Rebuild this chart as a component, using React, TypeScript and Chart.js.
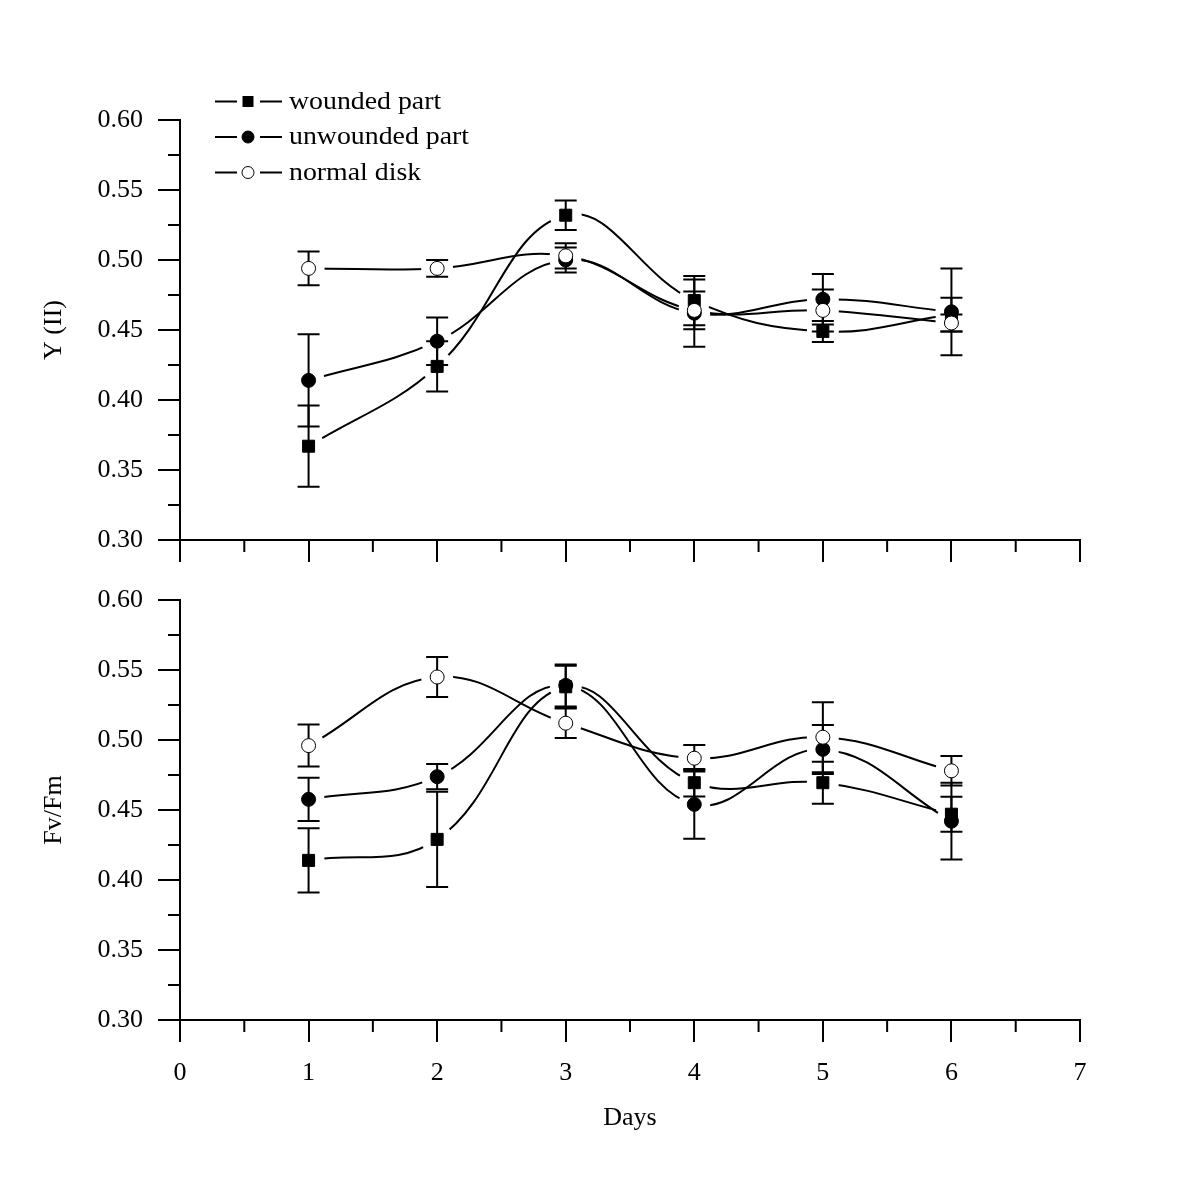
import React, { useEffect, useRef } from 'react';
import { Chart, registerables } from 'chart.js';

Chart.register(...registerables);

// ---- data ----
const days = [1, 2, 3, 4, 5, 6];
const xTicks = [0, 1, 2, 3, 4, 5, 6, 7];
const yTicks = [0.3, 0.35, 0.4, 0.45, 0.5, 0.55, 0.6];
const seriesNames = ['wounded part', 'unwounded part', 'normal disk'];

// Y (II) panel
const yiiWounded = [0.367, 0.424, 0.532, 0.471, 0.449, 0.461];
const yiiWoundedErr = [0.029, 0.018, 0.0105, 0.0176, 0.0075, 0.012];
const yiiUnwounded = [0.414, 0.442, 0.5, 0.462, 0.472, 0.463];
const yiiUnwoundedErr = [0.033, 0.017, 0.009, 0.024, 0.018, 0.031];
const yiiNormal = [0.494, 0.494, 0.503, 0.464, 0.464, 0.455];
const yiiNormalErr = [0.012, 0.006, 0.009, 0.0135, 0.015, 0.006];

// Fv/Fm panel
const fvWounded = [0.414, 0.429, 0.538, 0.4695, 0.4695, 0.447];
const fvWoundedErr = [0.023, 0.034, 0.015, 0.0098, 0.015, 0.0125];
const fvUnwounded = [0.4576, 0.4738, 0.539, 0.454, 0.4933, 0.442];
const fvUnwoundedErr = [0.0155, 0.009, 0.015, 0.0245, 0.0175, 0.0274];
const fvNormal = [0.496, 0.545, 0.512, 0.487, 0.502, 0.478];
const fvNormalErr = [0.015, 0.0143, 0.0105, 0.0095, 0.025, 0.0105];

const FONT = "'Liberation Serif', 'Times New Roman', serif";
const markerStyles = [
  { style: 'rect', radius: 8.5, fill: '#000' },
  { style: 'circle', radius: 7, fill: '#000' },
  { style: 'circle', radius: 7, fill: '#fff' },
];

const decorPlugin = {
  id: 'decor',
  beforeDatasetsDraw(chart: any) {
    const { ctx } = chart;
    const xs = chart.scales.x;
    const ys = chart.scales.y;
    ctx.save();
    ctx.strokeStyle = '#000';
    ctx.lineWidth = 2;
    chart.data.datasets.forEach((ds: any) => {
      if (!ds.errors) return;
      ds.data.forEach((p: any, i: number) => {
        const e = ds.errors[i];
        const px = xs.getPixelForValue(p.x);
        const t = ys.getPixelForValue(p.y + e);
        const b = ys.getPixelForValue(p.y - e);
        ctx.beginPath();
        ctx.moveTo(px, t);
        ctx.lineTo(px, b);
        ctx.moveTo(px - 11, t);
        ctx.lineTo(px + 11, t);
        ctx.moveTo(px - 11, b);
        ctx.lineTo(px + 11, b);
        ctx.stroke();
      });
    });
    ctx.restore();
  },
  beforeDatasetDraw(chart: any, args: any) {
    const ds = chart.data.datasets[args.index];
    if (!ds.gap) return;
    const ctx = chart.ctx;
    ctx.save();
    ctx.beginPath();
    ctx.rect(0, 0, chart.width, chart.height);
    args.meta.data.forEach((pt: any) => {
      ctx.moveTo(pt.x + ds.gap, pt.y);
      ctx.arc(pt.x, pt.y, ds.gap, 0, Math.PI * 2);
    });
    ctx.clip('evenodd');
  },
  afterDatasetDraw(chart: any, args: any) {
    const ds = chart.data.datasets[args.index];
    if (!ds.gap) return;
    chart.ctx.restore();
  },
  afterDraw(chart: any, _args: any, opts: any) {
    const { ctx, chartArea } = chart;
    const xs = chart.scales.x;
    const ys = chart.scales.y;
    ctx.save();
    ctx.strokeStyle = '#000';
    ctx.lineWidth = 2;
    // minor ticks
    ctx.beginPath();
    for (let i = 0; i < yTicks.length - 1; i++) {
      const py = ys.getPixelForValue((yTicks[i] + yTicks[i + 1]) / 2);
      ctx.moveTo(chartArea.left - 12, py);
      ctx.lineTo(chartArea.left, py);
    }
    for (let i = 0; i < xTicks.length - 1; i++) {
      const px = xs.getPixelForValue((xTicks[i] + xTicks[i + 1]) / 2);
      ctx.moveTo(px, chartArea.bottom);
      ctx.lineTo(px, chartArea.bottom + 12);
    }
    ctx.stroke();

    if (opts && opts.legend) {
      seriesNames.forEach((name, i) => {
        const y = 101.5 + i * 35.5;
        ctx.lineWidth = 2;
        ctx.beginPath();
        ctx.moveTo(215, y);
        ctx.lineTo(237, y);
        ctx.moveTo(260, y);
        ctx.lineTo(282, y);
        ctx.stroke();
        const m = markerStyles[i];
        ctx.fillStyle = m.fill;
        ctx.lineWidth = 1;
        if (m.style === 'rect') {
          ctx.fillRect(242.5, y - 5.5, 11, 11);
        } else {
          ctx.beginPath();
          ctx.arc(248, y, 6, 0, Math.PI * 2);
          ctx.fill();
          ctx.stroke();
        }
        ctx.fillStyle = '#000';
        ctx.font = `26px ${FONT}`;
        ctx.textBaseline = 'alphabetic';
        ctx.textAlign = 'left';
        ctx.save();
        ctx.translate(289, y + 7);
        ctx.scale(1.07, 1);
        ctx.fillText(name, 0, 0);
        ctx.restore();
      });
    }
    ctx.restore();
  },
};

function buildConfig(panel: 'top' | 'bottom', yTitle: string, values: number[][], errors: number[][]) {
  const datasets: any[] = [];
  values.forEach((vals, i) => {
    const pts = days.map((d, j) => ({ x: d, y: vals[j] }));
    datasets.push({
      label: seriesNames[i] + ' line',
      data: pts,
      showLine: true,
      borderColor: '#000',
      borderWidth: 2,
      tension: 0.4,
      pointRadius: 0,
      fill: false,
      gap: 16,
      order: 10,
    });
  });
  values.forEach((vals, i) => {
    const m = markerStyles[i];
    datasets.push({
      label: seriesNames[i],
      data: days.map((d, j) => ({ x: d, y: vals[j] })),
      errors: errors[i],
      showLine: false,
      pointStyle: m.style,
      pointRadius: m.radius,
      pointBackgroundColor: m.fill,
      pointBorderColor: '#000',
      pointBorderWidth: 1,
      borderColor: '#000',
      order: 2 - i,
    });
  });

  const font = { family: FONT, size: 26 };
  const gridOpts = { drawOnChartArea: false, drawTicks: true, tickLength: 22, color: '#000', lineWidth: 2 };
  const borderOpts = { display: true, color: '#000', width: 2 };

  return {
    type: 'line',
    data: { datasets },
    plugins: [decorPlugin],
    options: {
      animation: false,
      responsive: false,
      devicePixelRatio: 1,
      events: [],
      layout: {
        padding: panel === 'top'
          ? { top: 120, right: 120, left: 0, bottom: 0 }
          : { top: 60, right: 120, left: 0, bottom: 66 },
      },
      plugins: {
        legend: { display: false },
        tooltip: { enabled: false },
        decor: { legend: panel === 'top' },
      },
      scales: {
        x: {
          type: 'linear',
          min: 0,
          max: 7,
          afterBuildTicks: (s: any) => { s.ticks = xTicks.map((v) => ({ value: v })); },
          afterFit: (s: any) => { s.height = panel === 'top' ? 40 : 114; },
          grid: gridOpts,
          border: borderOpts,
          ticks: {
            display: panel === 'bottom',
            font,
            color: '#000',
            padding: 16,
            maxRotation: 0,
            autoSkip: false,
            callback: (v: any) => String(v),
          },
          title: { display: panel === 'bottom', text: 'Days', font, color: '#000', padding: 0 },
        },
        y: {
          type: 'linear',
          min: 0.3,
          max: 0.6,
          afterBuildTicks: (s: any) => { s.ticks = yTicks.map((v) => ({ value: v })); },
          afterFit: (s: any) => { s.width = 180; },
          grid: gridOpts,
          border: borderOpts,
          ticks: {
            font,
            color: '#000',
            padding: 15,
            autoSkip: false,
            callback: (v: any) => Number(v).toFixed(2),
          },
          title: { display: true, text: yTitle, font, color: '#000', padding: { top: 39, bottom: 0 } },
        },
      },
    },
  } as any;
}

export default function App() {
  const topRef = useRef<HTMLCanvasElement | null>(null);
  const botRef = useRef<HTMLCanvasElement | null>(null);

  useEffect(() => {
    const c1 = new Chart(
      topRef.current as HTMLCanvasElement,
      buildConfig('top', 'Y (II)', [yiiWounded, yiiUnwounded, yiiNormal], [yiiWoundedErr, yiiUnwoundedErr, yiiNormalErr])
    );
    const c2 = new Chart(
      botRef.current as HTMLCanvasElement,
      buildConfig('bottom', 'Fv/Fm', [fvWounded, fvUnwounded, fvNormal], [fvWoundedErr, fvUnwoundedErr, fvNormalErr])
    );
    return () => {
      c1.destroy();
      c2.destroy();
    };
  }, []);

  return (
    <div style={{ position: 'absolute', left: 0, top: 0, width: 1200, height: 1200, background: '#fff' }}>
      <canvas ref={botRef} width={1200} height={660} style={{ position: 'absolute', left: 0, top: 540, width: 1200, height: 660 }} />
      <canvas ref={topRef} width={1200} height={580} style={{ position: 'absolute', left: 0, top: 0, width: 1200, height: 580 }} />
    </div>
  );
}
